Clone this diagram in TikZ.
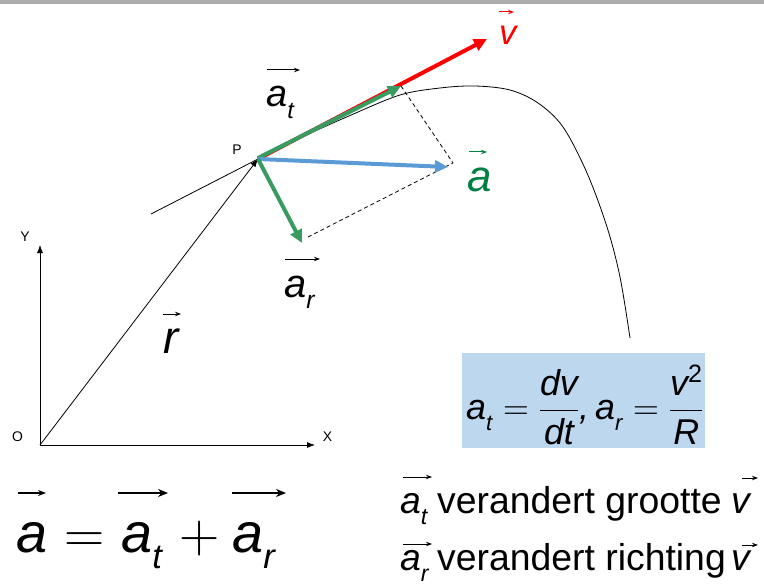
\documentclass[tikz,border=0pt]{standalone}
\usepackage{fix-cm}
\usepackage{amsmath}
\usepackage{graphicx}
\usepackage{fontspec}
\setmainfont{Liberation Sans}
\usetikzlibrary{arrows.meta}
\definecolor{vred}{RGB}{255,0,0}
\definecolor{agreen}{RGB}{56,155,96}
\definecolor{lgreen}{RGB}{0,128,64}
\definecolor{ablue}{RGB}{91,155,213}
\definecolor{boxblue}{RGB}{189,215,238}
\definecolor{topgray}{RGB}{173,173,173}
\newcommand{\fsz}[1]{\fontsize{#1}{#1}\selectfont}
\newcommand{\iv}[1]{\textit{#1}}
\newcommand{\sbs}[1]{\raisebox{-0.3em}{\scalebox{0.62}{\iv{#1}}}}
\begin{document}
\begin{tikzpicture}[x=1bp,y=-1bp,
  vecarrow/.style={line width=4bp,-{Triangle[length=13bp,width=12bp]}},
  overarrow/.style={line width=1bp,-{Stealth[length=6bp,width=4.5bp]}},
  lbl/.style={inner sep=0pt,anchor=base west},
  axlbl/.style={inner sep=0pt,font=\fsz{14}},
  thin/.style={line width=0.8bp}]
\useasboundingbox (0,0) rectangle (764,588);
\fill[topgray] (0,0) rectangle (764,4);

% points
\coordinate (O) at (40,445);
\coordinate (Ytip) at (40,245);
\coordinate (Xtip) at (315,445);
\coordinate (P) at (258,159);
\coordinate (T0) at (151,214);
\coordinate (Vtip) at (487,39);
\coordinate (Attip) at (401,86);
\coordinate (Atip) at (448,167);
\coordinate (Artip) at (302,243);
\coordinate (D1) at (453,163);
\coordinate (D2) at (308,237);

% axes
\draw[thin,-{Latex[length=8bp,width=6bp]}] (O) -- (Ytip);
\draw[thin,-{Latex[length=8bp,width=6bp]}] (O) -- (Xtip);
\node[axlbl] (lO) at (17.5,437) {O};
\node[axlbl] (lY) at (25,237) {Y};
\node[axlbl] (lX) at (327.5,437) {X};
\node[axlbl] (lP) at (237,149.5) {P};

% trajectory
\draw[thin] (T0) -- (P);
\draw[thin] plot[smooth,tension=0.55] coordinates {(258,159) (300,138) (350,115.5) (400,95) (440,88) (475,86) (510,90) (538,103) (563,127) (587,173) (607,227) (620,277) (630,338)};

% position vector
\draw[thin,-{Latex[length=8bp,width=6bp]}] (O) -- (P);

% dashed construction
\draw[thin,dash pattern=on 4bp off 3bp] (Attip) -- (D1);
\draw[thin,dash pattern=on 4bp off 3bp] (D2) -- (D1);

% vectors
\draw[vecarrow,vred] (P) -- (Vtip);
\draw[vecarrow,agreen] ([yshift=1bp]P) -- (Attip);
\draw[vecarrow,ablue] (P) -- (Atip);
\draw[vecarrow,agreen] (P) -- (Artip);

% labels in figure
\node[lbl,text=vred,font=\fsz{35}] (lv) at (499,45) {\iv{v}};
\draw[overarrow,vred] (499,12) -- (514,12);
\node[lbl,font=\fsz{38}] (lat) at (266,107) {\iv{a}\sbs{t}};
\draw[overarrow] (267,70) -- (300,70);
\node[lbl,text=lgreen,font=\fsz{44}] (la) at (467,192) {\iv{a}};
\draw[overarrow,lgreen] (469,152) -- (487,152);
\node[lbl,font=\fsz{40}] (lar) at (284,297) {\iv{a}\sbs{r}};
\draw[overarrow] (285,259) -- (320,259);
\node[lbl,font=\fsz{46}] (lr) at (163,353) {\iv{r}};
\draw[overarrow] (163,314) -- (181,314);

% formula box
\node[fill=boxblue,minimum width=243bp,minimum height=95bp,inner sep=0pt] (box) at (583.5,400.5) {};
\node[inner sep=0pt,anchor=west,font=\fsz{36}] (form) at (466,405)
  {$\mbox{\iv{a}\sbs{t}}=\dfrac{\iv{dv}}{\iv{dt}}\mbox{\iv{,}\,}\mbox{\iv{a}\sbs{r}}=\dfrac{\iv{v}^{\text{2}}}{\iv{R}}$};

% bottom equation
\node[lbl,font=\fsz{56}] (eq) at (16,552)
  {\iv{a}\hspace{17bp}$=$\hspace{17bp}\iv{a}\sbs{t}\hspace{16bp}$+$\hspace{13bp}\iv{a}\sbs{r}};
\draw[line width=1.5bp,-{Stealth[length=8bp,width=6bp]}] (18,493) -- (46,493);
\draw[line width=2.5bp,-{Stealth[length=10bp,width=8bp]}] (118,493) -- (168,493);
\draw[line width=2.5bp,-{Stealth[length=10bp,width=8bp]}] (232,493) -- (286,493);

% right-hand text
\node[lbl,font=\fsz{37.5}] (t1a) at (400,513) {\iv{a}\sbs{t}};
\node[lbl,font=\fsz{37.5}] (t1) at (437,513) {verandert grootte};
\node[lbl,font=\fsz{37.5}] (t1v) at (731,513) {\iv{v}};
\draw[overarrow] (403,477) -- (432,477);
\draw[overarrow] (742,478) -- (758,478);
\node[lbl,font=\fsz{37.5}] (t2a) at (400,570) {\iv{a}\sbs{r}};
\node[lbl,font=\fsz{37.5}] (t2) at (437,570) {verandert richting};
\node[lbl,font=\fsz{37.5}] (t2v) at (731,570) {\iv{v}};
\draw[overarrow] (403,544) -- (432,544);
\draw[overarrow] (742,545) -- (758,545);
\end{tikzpicture}
\end{document}
